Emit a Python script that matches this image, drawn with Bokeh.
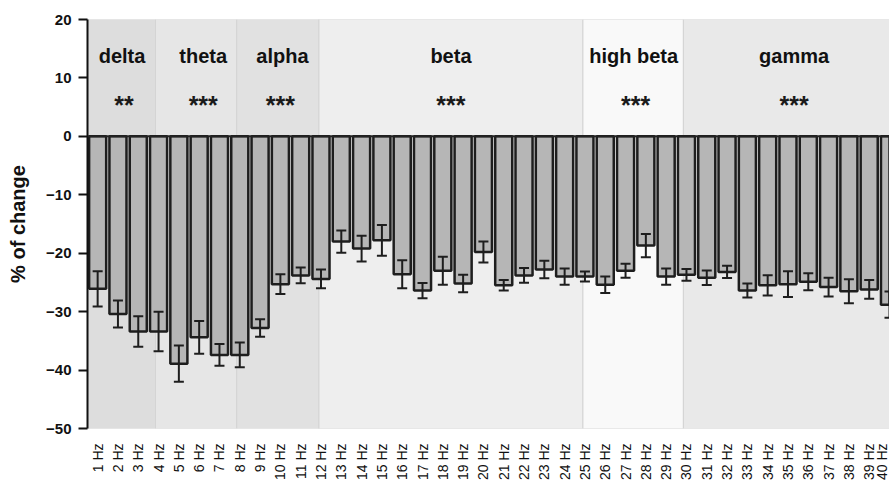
import numpy as np
from bokeh.plotting import figure
from bokeh.models import (ColumnDataSource, Range1d, FixedTicker, Whisker, TeeHead, Span)
from bokeh.core.properties import value
from bokeh.embed import file_html
from bokeh.resources import INLINE

freqs = list(range(1, 41))
tick_labels = [f"{f} Hz" for f in freqs]
means = [-26.1, -30.4, -33.4, -33.4, -38.9, -34.4, -37.4, -37.4, -32.8, -25.3,
         -23.8, -24.4, -18.0, -19.2, -17.8, -23.6, -26.4, -23.0, -25.2, -19.8,
         -25.5, -23.8, -22.8, -24.0, -24.0, -25.4, -23.0, -18.7, -24.0, -23.7,
         -24.2, -23.2, -26.4, -25.5, -25.3, -24.9, -25.8, -26.5, -26.2, -28.8]
sems = [3.0, 2.3, 2.6, 3.4, 3.1, 2.8, 1.85, 2.1, 1.5, 1.7,
        1.35, 1.6, 1.9, 2.2, 2.65, 2.4, 1.3, 2.4, 1.5, 1.8,
        0.9, 1.25, 1.5, 1.4, 0.85, 1.4, 1.2, 2.0, 1.4, 1.0,
        1.25, 1.05, 1.2, 1.75, 2.2, 1.45, 1.6, 2.05, 1.6, 2.25]

band_names = ["delta", "theta", "alpha", "beta", "high beta", "gamma"]
band_left = [0.5, 3.85, 7.85, 11.9, 24.9, 29.85]
band_right = [3.85, 7.85, 11.9, 24.9, 29.85, 40.75]
band_colors = ["#dddddd", "#e6e6e6", "#e1e1e1", "#eeeeee", "#f9f9f9", "#e9e9e9"]
band_stars = ["**", "***", "***", "***", "***", "***"]
label_x = [2.2, 6.2, 10.1, 18.4, 27.4, 35.3]
star_x = [2.3, 6.2, 10.0, 18.4, 27.5, 35.3]

y_ticks = [20, 10, 0, -10, -20, -30, -40, -50]

p = figure(width=889, height=483, output_backend="svg", toolbar_location=None,
           x_range=Range1d(0.5, 40.0), y_range=Range1d(-50, 20),
           min_border_left=87, min_border_top=19, min_border_right=0,
           min_border_bottom=55)
p.outline_line_color = None
p.xgrid.visible = False
p.ygrid.visible = False
p.background_fill_color = "white"

bands = ColumnDataSource(dict(left=band_left, right=band_right, color=band_colors))
p.quad(left="left", right="right", bottom=-50, top=20, fill_color="color",
       line_color="#d4d4d4", line_width=1, source=bands)

lo = [m - s for m, s in zip(means, sems)]
hi = [m + s for m, s in zip(means, sems)]
src = ColumnDataSource(dict(x=freqs, top=[0] * len(freqs), bottom=means, lo=lo, hi=hi))

p.vbar(x="x", top="top", bottom="bottom", width=0.84, fill_color="#b6b6b6",
       line_color="#1e1e1e", line_width=2.5, source=src)

w = Whisker(base="x", upper="hi", lower="lo", source=src, line_color="#1e1e1e",
            line_width=2, level="overlay",
            upper_head=TeeHead(size=10, line_color="#1e1e1e", line_width=2),
            lower_head=TeeHead(size=10, line_color="#1e1e1e", line_width=2))
p.add_layout(w)

p.add_layout(Span(location=0, dimension="width", line_color="#222222", line_width=2))

lab = ColumnDataSource(dict(x=label_x, y=[13.8] * 6, t=band_names))
p.text(x="x", y="y", text="t", source=lab, text_align="center", text_baseline="alphabetic",
       text_font=value("Liberation Sans"), text_font_style="bold", text_font_size="20px",
       text_color="#111111")
st = ColumnDataSource(dict(x=star_x, y=[5.3] * 6, t=band_stars))
p.text(x="x", y="y", text="t", source=st, text_align="center", text_baseline="alphabetic",
       text_font=value("Liberation Sans"), text_font_style="bold", text_font_size="25px",
       text_color="#1a1a1a")

p.xaxis.ticker = FixedTicker(ticks=freqs)
p.xaxis.major_label_overrides = {f: t for f, t in zip(freqs, tick_labels)}
p.xaxis.major_label_orientation = np.pi / 2
p.xaxis.axis_line_color = None
p.xaxis.major_tick_line_color = None
p.xaxis.minor_tick_line_color = None
p.xaxis.major_label_standoff = 9
p.xaxis.major_label_text_font = "Liberation Sans"
p.xaxis.major_label_text_font_size = "14px"
p.xaxis.major_label_text_color = "#111111"

p.yaxis.ticker = FixedTicker(ticks=y_ticks)
p.yaxis.axis_line_color = "#111111"
p.yaxis.axis_line_width = 2
p.yaxis.major_tick_line_color = "#111111"
p.yaxis.major_tick_line_width = 2
p.yaxis.major_tick_out = 9
p.yaxis.major_tick_in = 0
p.yaxis.minor_tick_line_color = None
p.yaxis.major_label_text_font = "Liberation Sans"
p.yaxis.major_label_text_font_style = "bold"
p.yaxis.major_label_text_font_size = "15px"
p.yaxis.major_label_text_color = "#111111"
p.yaxis.major_label_standoff = 7
p.yaxis.axis_label = "% of change"
p.yaxis.axis_label_text_font = "Liberation Sans"
p.yaxis.axis_label_text_font_style = "bold"
p.yaxis.axis_label_text_font_size = "20px"
p.yaxis.axis_label_text_color = "#111111"
p.yaxis.axis_label_standoff = 14

open("out.html", "w").write(file_html(p, INLINE))
